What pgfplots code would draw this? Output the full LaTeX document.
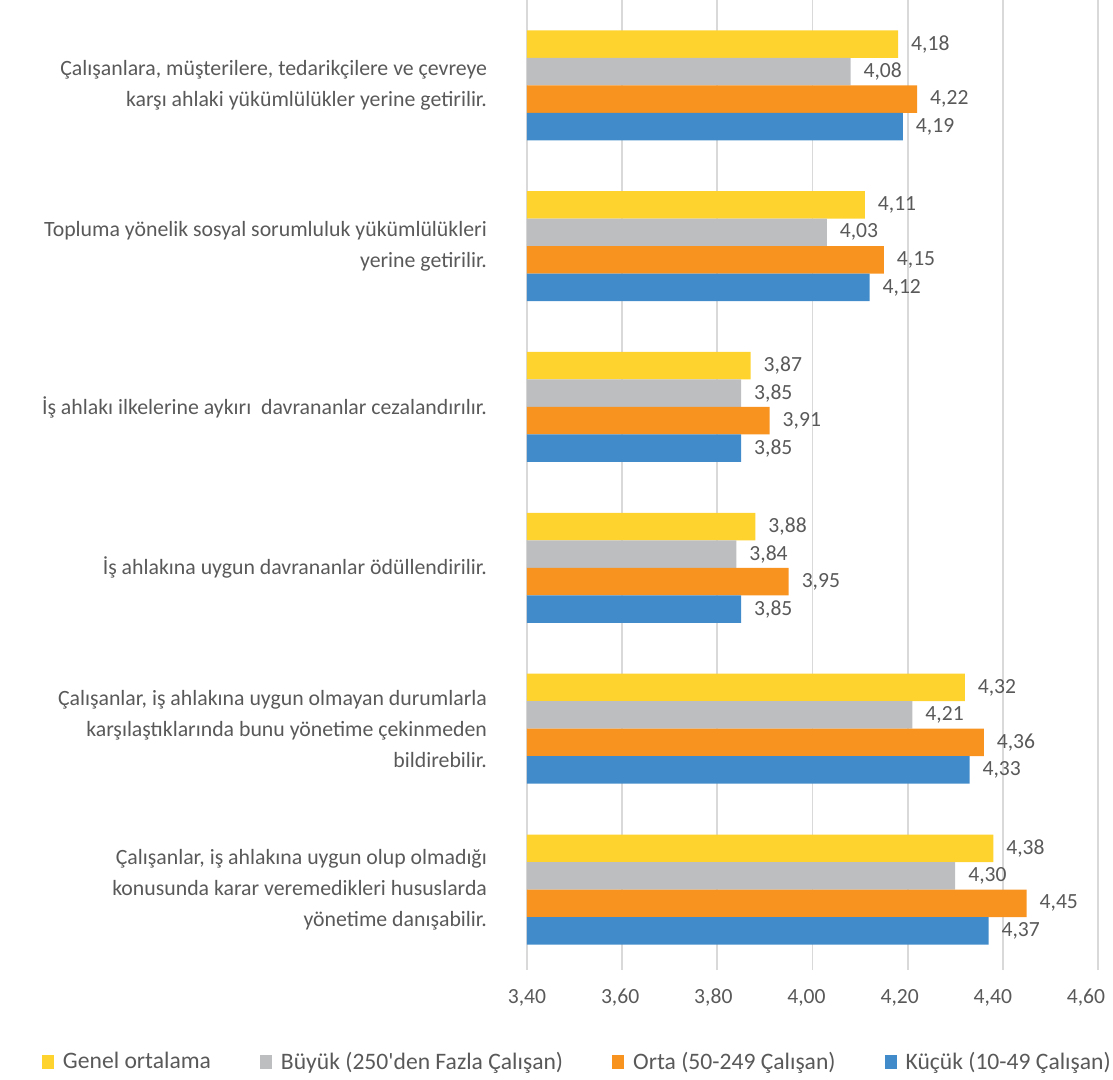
\documentclass[border=0pt]{standalone}
\usepackage{pgfplots}
\pgfplotsset{compat=1.18}
\usepackage{fontspec}
\setmainfont{Carlito}
\definecolor{cGen}{HTML}{FFD32E}
\definecolor{cBuy}{HTML}{BDBEC0}
\definecolor{cOrt}{HTML}{F7931E}
\definecolor{cKuc}{HTML}{428BCA}
\definecolor{txt}{HTML}{595959}
\definecolor{grd}{HTML}{D9D9D9}
\begin{document}
\begin{tikzpicture}[x=1pt,y=1pt]
\useasboundingbox (-263.5pt,-55pt) rectangle (293pt,485pt);
\begin{axis}[
  at={(0pt,0pt)}, anchor=south west,
  scale only axis, width=285.5pt, height=485pt,
  xbar=0pt, bar width=13.75pt,
  xmin=3.4, xmax=4.6,
  ymin=-0.53, ymax=5.5, y dir=reverse,
  axis line style={draw=none},
  xtick={3.4,3.6,...,4.61},
  xmajorgrids, grid style={grd, line width=0.9pt},
  major tick length=0pt,
  xticklabel={\pgfmathprintnumber[fixed,fixed zerofill,precision=2,use comma]{\tick}},
  /pgf/number format/assume math mode=true,
  xticklabel style={font=\fontsize{10.8}{12}\selectfont, text=txt, yshift=-6pt, xshift={-1pt*\ticknum}},
  ytick={0,1,2,3,4,5},
  yticklabels={
    {Çalışanlara, müşterilere, tedarikçilere ve çevreye\\karşı ahlaki yükümlülükler yerine getirilir.},
    {Topluma yönelik sosyal sorumluluk yükümlülükleri\\yerine getirilir.},
    {İş ahlakı ilkelerine aykırı\ \ davrananlar cezalandırılır.},
    {İş ahlakına uygun davrananlar ödüllendirilir.},
    {Çalışanlar, iş ahlakına uygun olmayan durumlarla\\karşılaştıklarında bunu yönetime çekinmeden\\bildirebilir.},
    {Çalışanlar, iş ahlakına uygun olup olmadığı\\konusunda karar veremedikleri hususlarda\\yönetime danışabilir.}},
  yticklabel style={font=\fontsize{10.9}{15.5}\selectfont, text=txt, align=right, xshift=-16.5pt},
  point meta=x,
  nodes near coords={\pgfmathprintnumber[fixed,fixed zerofill,precision=2,use comma]{\pgfplotspointmeta}},
  every node near coord/.append style={font=\fontsize{10.8}{12}\selectfont, text=txt, anchor=west, xshift=3pt},
  legend columns=4,
  legend style={at={(0.090,-0.095)}, anchor=center, draw=none, fill=none,
    font=\fontsize{11.8}{13}\selectfont, text=txt,
    /tikz/every odd column/.append style={column sep=2.5pt},
    /tikz/every even column/.append style={column sep=22.5pt}},
  legend image code/.code={\fill[#1] (0pt,-3.5pt) rectangle (6pt,3.5pt);},
]
\addplot[fill=cGen, draw=none, bar shift=20.625pt] coordinates {(4.18,0) (4.11,1) (3.87,2) (3.88,3) (4.32,4) (4.38,5)};
\addplot[fill=cBuy, draw=none, bar shift=6.875pt] coordinates {(4.08,0) (4.03,1) (3.85,2) (3.84,3) (4.21,4) (4.30,5)};
\addplot[fill=cOrt, draw=none, bar shift=-6.875pt] coordinates {(4.22,0) (4.15,1) (3.91,2) (3.95,3) (4.36,4) (4.45,5)};
\addplot[fill=cKuc, draw=none, bar shift=-20.625pt] coordinates {(4.19,0) (4.12,1) (3.85,2) (3.85,3) (4.33,4) (4.37,5)};
\legend{Genel ortalama, Büyük (250\textquotesingle den Fazla Çalışan), Orta (50-249 Çalışan), Küçük (10-49 Çalışan)}
\end{axis}
\end{tikzpicture}
\end{document}
